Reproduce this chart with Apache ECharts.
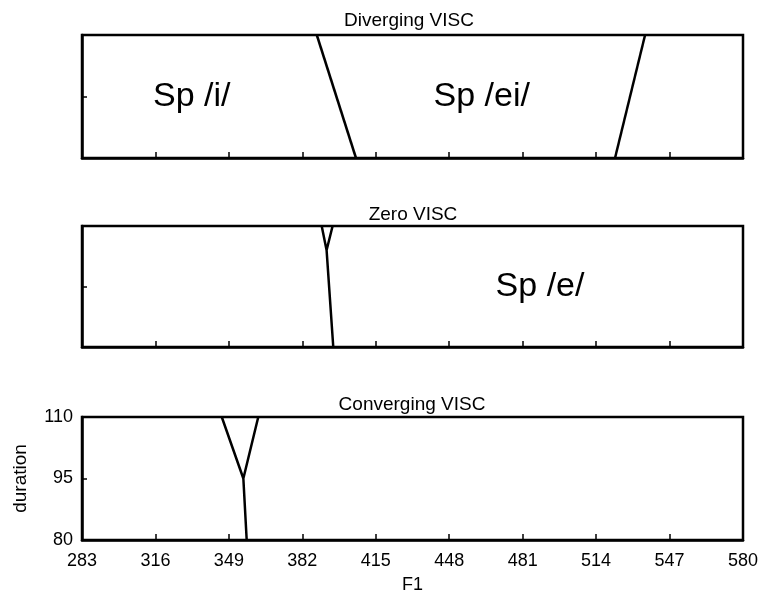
<!DOCTYPE html>
<html>
<head>
<meta charset="utf-8">
<script src="https://cdn.jsdelivr.net/npm/echarts@6/dist/echarts.min.js"></script>
<style>
html,body{margin:0;padding:0;background:#fff;}
#main{width:768px;height:597px;}
</style>
</head>
<body>
<div id="main"></div>
<script>
// ---- data ----
const panelTitles = ['Diverging VISC', 'Zero VISC', 'Converging VISC'];
const xTicks = [283, 316, 349, 382, 415, 448, 481, 514, 547, 580];
const yTicks = [80, 95, 110];
const xLabel = 'F1';
const yLabel = 'duration';

// boundary lines: [F1, duration] points
const divBoundary1 = [[388.5, 110], [406.1, 80]];
const divBoundary2 = [[536.0, 110], [522.5, 80]];
const zeroBoundary = [[390.7, 110], [392.9, 104], [395.6, 110], [392.9, 104], [395.9, 80]];
const convBoundary = [[345.8, 110], [355.5, 95], [362.2, 110], [355.5, 95], [357.0, 80]];

// region labels: [F1, duration, text]
const divLabels = [[332.3, 95, 'Sp /i/'], [462.6, 95, 'Sp /ei/']];
const zeroLabels = [[488.8, 95, 'Sp /e/']];

// ---- chart ----
const FONT = 'Liberation Sans, Arial, sans-serif';
const grids = [
  {left: 82, width: 661, top: 35, height: 123},
  {left: 82, width: 661, top: 226, height: 121},
  {left: 82, width: 661, top: 417, height: 123}
];
const titleY = [6, 200, 390];
const titleX = [404, 408, 407];

const xAxes = grids.map((g, i) => ({
  type: 'value', gridIndex: i,
  min: xTicks[0], max: xTicks[xTicks.length - 1], interval: xTicks[1] - xTicks[0],
  axisLine: {show: true, lineStyle: {color: '#000', width: 2.5}},
  axisTick: {show: true, inside: true, length: 6, lineStyle: {color: '#000', width: 1.5}},
  axisLabel: {show: i === 2, color: '#000', fontSize: 18, fontFamily: FONT, margin: 12},
  splitLine: {show: false},
  name: i === 2 ? xLabel : '',
  nameLocation: 'middle', nameGap: 36,
  nameTextStyle: {color: '#000', fontSize: 18, fontFamily: FONT}
}));
const yAxes = grids.map((g, i) => ({
  type: 'value', gridIndex: i,
  min: yTicks[0], max: yTicks[yTicks.length - 1], interval: yTicks[1] - yTicks[0],
  axisLine: {show: true, lineStyle: {color: '#000', width: 2.5}},
  axisTick: {show: true, inside: true, length: 5, lineStyle: {color: '#000', width: 1.5}},
  axisLabel: {show: i === 2, color: '#000', fontSize: 18, fontFamily: FONT, margin: 9},
  splitLine: {show: false},
  name: i === 2 ? yLabel : '',
  nameLocation: 'middle', nameGap: 52,
  nameTextStyle: {color: '#000', fontSize: 19, fontFamily: FONT}
}));

function lineSeries(data, gi) {
  return {
    type: 'line', xAxisIndex: gi, yAxisIndex: gi, data: data,
    showSymbol: false, symbol: 'none', silent: true,
    lineStyle: {color: '#000', width: 2.5}, z: 3
  };
}
function labelSeries(data, gi) {
  return {
    type: 'scatter', xAxisIndex: gi, yAxisIndex: gi, symbolSize: 0, silent: true,
    itemStyle: {opacity: 1, color: '#000'},
    data: data.map(d => ({value: [d[0], d[1]], name: d[2]})),
    label: {show: true, position: 'inside', formatter: p => p.name, opacity: 1,
      color: '#000', fontSize: 34, fontFamily: FONT, textBorderWidth: 0}
  };
}

const option = {
  backgroundColor: '#fff',
  animation: false,
  title: panelTitles.map((t, i) => ({
    text: t, left: titleX[i], top: titleY[i], textAlign: 'center',
    textStyle: {color: '#000', fontSize: 19, fontWeight: 'normal', fontFamily: FONT}
  })),
  grid: grids.map(g => Object.assign({show: true, borderColor: '#000', borderWidth: 2.5, backgroundColor: 'transparent'}, g)),
  xAxis: xAxes,
  yAxis: yAxes,
  series: [
    lineSeries(divBoundary1, 0),
    lineSeries(divBoundary2, 0),
    lineSeries(zeroBoundary, 1),
    lineSeries(convBoundary, 2),
    labelSeries(divLabels, 0),
    labelSeries(zeroLabels, 1)
  ]
};
const chart = echarts.init(document.getElementById('main'), null, {renderer: 'canvas'});
chart.setOption(option);
</script>
</body>
</html>
